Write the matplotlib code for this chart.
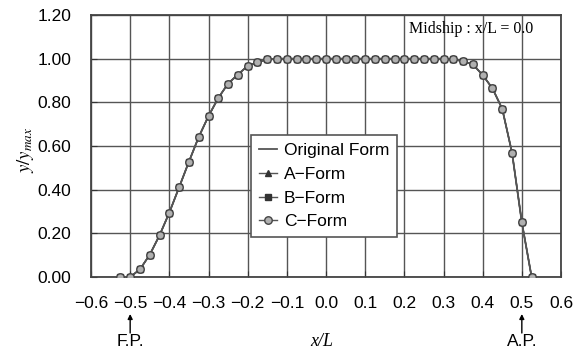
import matplotlib
matplotlib.use("Agg")
import matplotlib as mpl
import matplotlib.pyplot as plt

mpl.rcParams["mathtext.fontset"] = "stix"

x_stations = [-0.525, -0.5, -0.475, -0.45, -0.425, -0.4, -0.375, -0.35, -0.325, -0.3,
              -0.275, -0.25, -0.225, -0.2, -0.175, -0.15, -0.125, -0.1, -0.075, -0.05,
              -0.025, 0.0, 0.025, 0.05, 0.075, 0.1, 0.125, 0.15, 0.175, 0.2,
              0.225, 0.25, 0.275, 0.3, 0.325, 0.35, 0.375, 0.4, 0.425, 0.45,
              0.475, 0.5, 0.525]
y_original = [0.0, 0.0, 0.035, 0.102, 0.191, 0.295, 0.411, 0.528, 0.641, 0.737,
              0.820, 0.886, 0.927, 0.967, 0.983, 0.997, 1.0, 1.0, 1.0, 1.0,
              1.0, 1.0, 1.0, 1.0, 1.0, 1.0, 1.0, 1.0, 1.0, 1.0,
              1.0, 1.0, 1.0, 1.0, 0.997, 0.988, 0.974, 0.925, 0.864, 0.770,
              0.569, 0.250, 0.0]
y_a = list(y_original)
y_b = list(y_original)
y_c = list(y_original)

x_ticks = [-0.6, -0.5, -0.4, -0.3, -0.2, -0.1, 0.0, 0.1, 0.2, 0.3, 0.4, 0.5, 0.6]
x_ticklabels = ["\u22120.6", "\u22120.5", "\u22120.4", "\u22120.3", "\u22120.2", "\u22120.1",
                "0.0", "0.1", "0.2", "0.3", "0.4", "0.5", "0.6"]
y_ticks = [0.0, 0.2, 0.4, 0.6, 0.8, 1.0, 1.2]
y_ticklabels = ["0.00", "0.20", "0.40", "0.60", "0.80", "1.00", "1.20"]

sans = ["Liberation Sans", "DejaVu Sans"]
serif = ["Liberation Serif", "DejaVu Serif"]
fs = 12.5

fig = plt.figure(figsize=(5.77, 3.52), dpi=100)
ax = fig.add_axes([91/577, 1-277/352, (561-91)/577, (277-15)/352])

line_c = "#555555"
ax.plot(x_stations, y_original, color=line_c, lw=1.3, label="Original Form", zorder=3)
ax.plot(x_stations, y_a, color=line_c, lw=1.0, marker="^", ms=4, mfc="#333333", mec="#333333",
        label="A\u2212Form", zorder=4)
ax.plot(x_stations, y_b, color=line_c, lw=1.0, marker="s", ms=4, mfc="#333333", mec="#333333",
        label="B\u2212Form", zorder=5)
ax.plot(x_stations, y_c, color=line_c, lw=1.0, marker="o", ms=5.4, mfc="#b0b0b0", mec="#444444",
        mew=1.0, label="C\u2212Form", zorder=6)

ax.set_xlim(-0.6, 0.6)
ax.set_ylim(0.0, 1.2)
ax.set_xticks(x_ticks)
ax.set_xticklabels(x_ticklabels, family=sans, fontsize=fs)
ax.set_yticks(y_ticks)
ax.set_yticklabels(y_ticklabels, family=sans, fontsize=fs)
ax.tick_params(axis="x", direction="in", length=4, color="#333333", pad=14)
ax.tick_params(axis="y", direction="in", length=4, color="#333333", pad=14)
ax.grid(True, color="#555555", lw=1.0)
ax.set_axisbelow(True)
for s in ax.spines.values():
    s.set_color("#444444")
    s.set_linewidth(1.3)

fig.text(25/577, 1-150/352, "$y/y_{max}$", fontsize=13.5, rotation=90,
         ha="center", va="center")
fig.text(322/577, 1-342/352, "x/L", family=serif, style="italic", fontsize=13,
         ha="center", va="center")

fig.text(533/577, 1-21/352, "Midship : x/L = 0.0", family=serif,
         fontsize=11.5, ha="right", va="top")

for xv, lab in [(-0.5, "F.P."), (0.5, "A.P.")]:
    ax.annotate("", xy=(xv, (352-314)/352), xycoords=("data", "figure fraction"),
                xytext=(xv, (352-333)/352), textcoords=("data", "figure fraction"),
                arrowprops=dict(arrowstyle="-|>", color="black", lw=1.0,
                                mutation_scale=7, shrinkA=0, shrinkB=0))
    ax.annotate(lab, xy=(xv, (352-342)/352), xycoords=("data", "figure fraction"),
                family=sans, fontsize=fs, ha="center", va="center",
                annotation_clip=False)

leg = ax.legend(loc="upper left", bbox_to_anchor=(251/577, 1-135/352),
                bbox_transform=fig.transFigure, prop={"family": sans, "size": fs},
                fancybox=False, framealpha=1.0, edgecolor="#555555",
                handlelength=1.05, handletextpad=0.4, labelspacing=0.5,
                borderpad=0.45, borderaxespad=0)
leg.get_frame().set_linewidth(1.2)
leg.set_zorder(10)

fig.savefig("out.png", dpi=100)
